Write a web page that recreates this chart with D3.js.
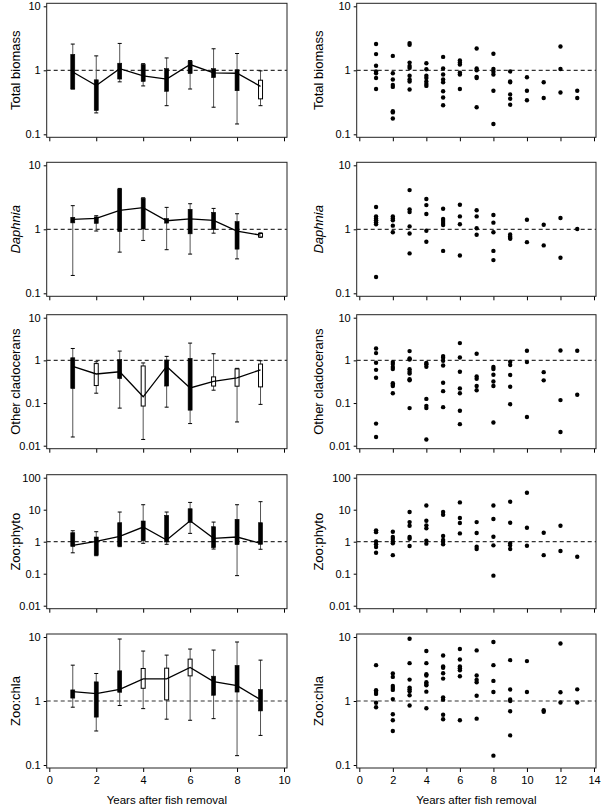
<!DOCTYPE html>
<html><head><meta charset="utf-8">
<script src="https://cdn.jsdelivr.net/npm/d3@7"></script>
<style>
body{margin:0;background:#fff;}
svg{display:block;font-family:"Liberation Sans",Arial,Helvetica,sans-serif;}
</style></head><body>
<svg id="c" width="602" height="806"></svg>
<script>
// ---------- DATA ----------
const panelLabels = ["Total biomass", "Daphnia", "Other cladocerans", "Zoo:phyto", "Zoo:chla"];
const yDomains = [[0.1, 10], [0.1, 10], [0.01, 10], [0.01, 100], [0.1, 10]];
const yTickValues = [[0.1, 1, 10], [0.1, 1, 10], [0.01, 0.1, 1, 10], [0.01, 0.1, 1, 10, 100], [0.1, 1, 10]];
const xTicksLeft = [0, 2, 4, 6, 8, 10];
const xTicksRight = [0, 2, 4, 6, 8, 10, 12, 14];
const xTitle = "Years after fish removal";

// box rows: [year, whiskerLow, q1, median, q3, whiskerHigh, filled]
const boxTotalBiomass = [
  [1, 0.51, 0.51, 0.94, 1.77, 2.57, 1],
  [2, 0.216, 0.235, 0.58, 0.71, 1.68, 1],
  [3, 0.66, 0.73, 1.06, 1.29, 2.63, 1],
  [4, 0.57, 0.67, 0.82, 1.23, 1.27, 1],
  [5, 0.28, 0.47, 0.73, 1.06, 1.56, 1],
  [6, 0.51, 0.89, 1.23, 1.39, 1.42, 1],
  [7, 0.265, 0.77, 0.91, 1.06, 2.17, 1],
  [8, 0.145, 0.48, 0.90, 1.02, 1.83, 1],
  [9, 0.28, 0.358, 0.56, 0.70, 0.98, 0]
];
const boxDaphnia = [
  [1, 0.19, 1.26, 1.43, 1.54, 2.34, 1],
  [2, 0.94, 1.24, 1.48, 1.56, 1.63, 1],
  [3, 0.44, 0.92, 1.98, 4.25, 4.35, 1],
  [4, 0.67, 1.01, 2.18, 3.04, 3.11, 1],
  [5, 0.48, 1.25, 1.36, 1.47, 2.20, 1],
  [6, 0.41, 0.85, 1.45, 2.05, 2.51, 1],
  [7, 0.87, 0.99, 1.38, 1.84, 2.12, 1],
  [8, 0.345, 0.49, 0.94, 1.32, 1.75, 1],
  [9, 0.75, 0.76, 0.81, 0.86, 0.88, 0]
];
const boxOtherClad = [
  [1, 0.016, 0.219, 0.72, 1.15, 1.9, 1],
  [2, 0.17, 0.257, 0.48, 0.84, 0.93, 0],
  [3, 0.076, 0.374, 0.54, 1.04, 1.65, 1],
  [4, 0.014, 0.085, 0.14, 0.74, 0.87, 0],
  [5, 0.08, 0.25, 0.72, 1.02, 1.24, 1],
  [6, 0.033, 0.068, 0.226, 1.11, 2.54, 1],
  [7, 0.2, 0.25, 0.32, 0.41, 1.43, 0],
  [8, 0.036, 0.248, 0.39, 0.63, 0.65, 0],
  [9, 0.093, 0.239, 0.6, 0.82, 0.98, 0]
];
const boxZooPhyto = [
  [1, 0.45, 0.71, 0.77, 1.91, 2.2, 1],
  [2, 0.365, 0.38, 1.02, 1.4, 2.05, 1],
  [3, 0.70, 0.73, 1.47, 3.92, 8.45, 1],
  [4, 0.89, 1.07, 2.87, 4.43, 14.3, 1],
  [5, 0.83, 0.98, 1.13, 6.65, 8.45, 1],
  [6, 1.82, 4.02, 4.53, 10.7, 16.9, 1],
  [7, 0.59, 0.65, 1.27, 2.94, 4.1, 1],
  [8, 0.087, 0.81, 1.4, 4.99, 14.3, 1],
  [9, 0.58, 0.83, 0.89, 3.92, 17.8, 1]
];
const boxZooChla = [
  [1, 0.80, 1.11, 1.40, 1.49, 3.63, 1],
  [2, 0.34, 0.56, 1.30, 1.99, 2.69, 1],
  [3, 0.85, 1.37, 1.52, 2.96, 9.3, 1],
  [4, 0.76, 1.58, 2.22, 3.22, 6.03, 0],
  [5, 0.52, 1.04, 2.22, 3.26, 5.21, 0],
  [6, 0.50, 2.47, 3.34, 4.51, 6.48, 0],
  [7, 0.53, 1.23, 2.01, 2.44, 6.25, 1],
  [8, 0.14, 1.38, 1.74, 3.59, 8.35, 1],
  [9, 0.29, 0.70, 1.05, 1.51, 4.35, 1]
];

// scatter: index i -> year i+1
const ptsTotalBiomass = [
  [2.57, 1.79, 1.18, 0.96, 0.90, 0.76, 0.51],
  [1.68, 0.90, 0.72, 0.59, 0.55, 0.23, 0.22, 0.177],
  [2.66, 2.5, 1.32, 1.17, 1.09, 0.82, 0.72, 0.67, 0.50],
  [1.29, 1.04, 0.82, 0.76, 0.67, 0.61, 0.57],
  [1.62, 1.07, 0.86, 0.72, 0.65, 0.47, 0.375, 0.285],
  [1.42, 1.32, 1.23, 0.92, 0.86, 0.51],
  [2.19, 1.07, 1.0, 0.79, 0.76, 0.265],
  [1.81, 1.05, 0.95, 0.86, 0.48, 0.145],
  [0.96, 0.67, 0.65, 0.42, 0.36, 0.29],
  [0.78, 0.48, 0.34],
  [0.65, 0.37],
  [2.36, 1.05, 0.45],
  [0.48, 0.37]
];
const ptsDaphnia = [
  [2.23, 1.59, 1.47, 1.38, 1.29, 1.20, 0.18],
  [1.59, 1.48, 1.38, 1.14, 0.90],
  [4.1, 2.05, 1.86, 1.11, 0.86, 0.42],
  [2.97, 2.39, 1.73, 0.95, 0.64],
  [2.1, 1.45, 1.35, 1.25, 1.17, 0.46],
  [2.42, 1.59, 1.2, 0.39],
  [1.98, 1.59, 1.04, 0.82],
  [1.67, 1.27, 0.90, 0.46, 0.33],
  [0.83, 0.78, 0.74, 0.71],
  [1.41, 0.63],
  [1.18, 0.56],
  [1.5, 0.36],
  [1.01]
];
const ptsOtherClad = [
  [1.9, 1.48, 0.88, 0.60, 0.39, 0.033, 0.016],
  [0.91, 0.82, 0.70, 0.63, 0.29, 0.27, 0.25, 0.17],
  [1.65, 1.11, 1.05, 0.62, 0.54, 0.49, 0.36, 0.34, 0.076],
  [0.87, 0.81, 0.71, 0.125, 0.086, 0.076, 0.014],
  [1.26, 1.15, 0.98, 0.76, 0.30, 0.19, 0.08],
  [2.54, 1.17, 0.54, 0.22, 0.17, 0.066, 0.032],
  [1.43, 0.42, 0.37, 0.25, 0.2],
  [0.70, 0.63, 0.46, 0.32, 0.25, 0.035],
  [0.93, 0.78, 0.455, 0.24, 0.094],
  [1.68, 0.91, 0.047],
  [0.53, 0.34],
  [1.71, 0.117, 0.021],
  [1.68, 0.156]
];
const ptsZooPhyto = [
  [2.26, 1.99, 1.02, 0.83, 0.68, 0.45],
  [2.05, 1.4, 1.21, 1.02, 0.89, 0.38],
  [8.45, 4.1, 3.16, 1.4, 1.24, 0.73],
  [13.6, 4.53, 3.24, 2.61, 1.07, 0.87],
  [8.45, 6.97, 1.5, 1.13, 1.0, 0.83],
  [16.9, 5.5, 3.83, 1.82],
  [4.1, 1.87, 0.70, 0.59],
  [13.6, 5.1, 1.43, 0.77, 0.087],
  [17.8, 3.92, 0.89, 0.77, 0.59],
  [34, 2.74, 0.75],
  [1.91, 0.38],
  [3.16, 0.51],
  [0.34]
];
const ptsZooChla = [
  [3.63, 1.47, 1.38, 1.29, 0.94, 0.80],
  [2.69, 2.38, 1.72, 1.6, 1.49, 1.07, 0.62, 0.50, 0.34],
  [9.4, 3.9, 2.16, 1.62, 1.52, 1.42, 1.23, 0.85],
  [6.03, 3.9, 2.62, 2.5, 1.96, 1.85, 1.76, 1.40, 0.77],
  [5.15, 3.46, 3.3, 2.72, 2.24, 1.14, 1.05, 0.61, 0.52],
  [6.48, 4.46, 3.46, 3.26, 3.03, 2.44, 0.50],
  [6.17, 2.5, 2.14, 1.96, 1.21, 0.53],
  [8.35, 3.63, 2.06, 1.38, 0.14],
  [4.35, 1.51, 1.06, 1.0, 0.69, 0.29],
  [4.2, 1.38],
  [0.72, 0.68],
  [7.93, 1.37, 0.95],
  [1.52, 0.95]
];

const boxSets = [boxTotalBiomass, boxDaphnia, boxOtherClad, boxZooPhyto, boxZooChla];
const ptSets = [ptsTotalBiomass, ptsDaphnia, ptsOtherClad, ptsZooPhyto, ptsZooChla];

// ---------- LAYOUT ----------
const panelTops = [3.3, 162.3, 314.7, 474.7, 634];
const panelH = 134;
const L = {frameX0: 46.7, frameX1: 287, r0: 49.3, r1: 284, dom: [0, 10], ticks: xTicksLeft, titleX: 15};
const R = {frameX0: 356.7, frameX1: 596, r0: 359.3, r1: 594, dom: [0, 14], ticks: xTicksRight, titleX: 318};

const svg = d3.select("#c");
const fmt = v => String(v);

function drawFrame(g, col, i, y) {
  const top = panelTops[i];
  const x = d3.scaleLinear().domain(col.dom).range([col.r0, col.r1]);
  // y axis
  const ya = g.append("g").attr("transform", `translate(${col.frameX0},0)`)
    .call(d3.axisLeft(y).tickValues(yTickValues[i]).tickFormat(fmt).tickSize(3).tickPadding(3).tickSizeOuter(0));
  ya.select(".domain").remove();
  ya.selectAll("text").attr("font-size", 11).attr("fill", "#000");
  ya.selectAll("line").attr("stroke", "#000");
  // x axis
  const last = i === panelTops.length - 1;
  const xa = g.append("g").attr("transform", `translate(0,${top + panelH})`)
    .call(d3.axisBottom(x).tickValues(col.ticks).tickFormat(last ? fmt : () => "").tickSize(4).tickPadding(4).tickSizeOuter(0));
  xa.select(".domain").remove();
  xa.selectAll("text").attr("font-size", 11).attr("fill", "#000");
  xa.selectAll("line").attr("stroke", "#000");
  // frame
  g.append("rect").attr("x", col.frameX0).attr("y", top)
    .attr("width", col.frameX1 - col.frameX0).attr("height", panelH)
    .attr("fill", "none").attr("stroke", "#222").attr("stroke-width", 1);
  // reference line at 1
  g.append("line").attr("x1", col.frameX0).attr("x2", col.frameX1)
    .attr("y1", y(1)).attr("y2", y(1))
    .attr("stroke", "#333").attr("stroke-width", 1.2).attr("stroke-dasharray", "4,3");
  // y title
  g.append("text").attr("transform", `translate(${col.titleX},${top + panelH / 2}) rotate(-90)`)
    .attr("text-anchor", "middle").attr("dominant-baseline", "central")
    .attr("font-size", 13).attr("font-style", i === 1 ? "italic" : "normal")
    .text(panelLabels[i]);
  if (last) {
    g.append("text").attr("x", (col.frameX0 + col.frameX1) / 2).attr("y", 804)
      .attr("text-anchor", "middle").attr("font-size", 11.5).text(xTitle);
  }
  return x;
}

panelTops.forEach((top, i) => {
  const y = d3.scaleLog().domain(yDomains[i]).range([top + 131, top + 3]);

  // ---- left: box plots ----
  const gl = svg.append("g");
  const xl = drawFrame(gl, L, i, y);
  const rows = boxSets[i].map(r => ({year: r[0], lo: r[1], q1: r[2], med: r[3], q3: r[4], hi: r[5], filled: r[6]}));
  const bw = 4, cw = 4;
  const bx = gl.append("g");
  rows.forEach(d => {
    const cx = xl(d.year);
    bx.append("line").attr("x1", cx).attr("x2", cx).attr("y1", y(d.lo)).attr("y2", y(d.hi))
      .attr("stroke", "#555").attr("stroke-width", 1);
    [d.lo, d.hi].forEach(v => bx.append("line").attr("x1", cx - cw / 2).attr("x2", cx + cw / 2)
      .attr("y1", y(v)).attr("y2", y(v)).attr("stroke", "#000").attr("stroke-width", 1));
  });
  rows.forEach(d => {
    const cx = xl(d.year);
    bx.append("rect").attr("x", cx - bw / 2).attr("width", bw)
      .attr("y", y(d.q3)).attr("height", Math.max(1, y(d.q1) - y(d.q3)))
      .attr("fill", d.filled ? "#000" : "#fff")
      .attr("stroke", "#000").attr("stroke-width", d.filled ? 0.6 : 1);
  });
  gl.append("path").datum(rows)
    .attr("d", d3.line().x(d => xl(d.year)).y(d => y(d.med)))
    .attr("fill", "none").attr("stroke", "#000").attr("stroke-width", 1.3);

  // ---- right: scatter ----
  const gr = svg.append("g");
  const xr = drawFrame(gr, R, i, y);
  const pts = ptSets[i].flatMap((vals, k) => vals.map(v => ({year: k + 1, v})));
  gr.append("g").selectAll("circle").data(pts).join("circle")
    .attr("cx", d => xr(d.year)).attr("cy", d => y(d.v)).attr("r", 2.2).attr("fill", "#000");
});
</script>
</body></html>
